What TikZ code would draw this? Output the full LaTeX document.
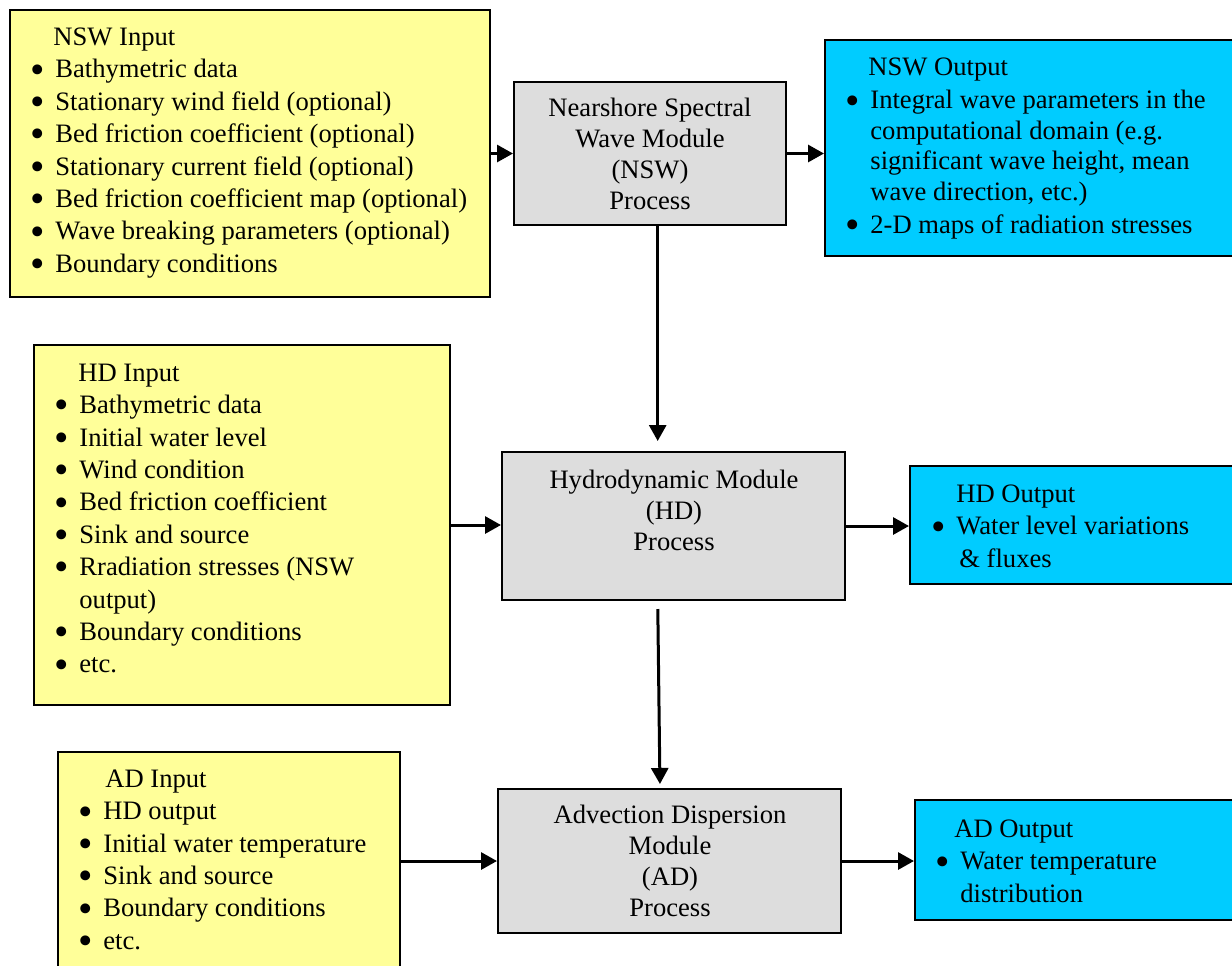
\documentclass[tikz,border=0pt]{standalone}
\usepackage{fontspec}
\setmainfont{Liberation Serif}
\usepackage{graphicx}
\usepackage{tikz}
\usetikzlibrary{arrows.meta,positioning,fit,calc}

\definecolor{inyellow}{RGB}{255,255,153}
\definecolor{procgray}{RGB}{221,221,221}
\definecolor{outblue}{RGB}{0,204,255}

\newcommand{\bul}{\makebox[12.5pt][l]{\raisebox{-0.2em}{\scalebox{1.55}{\textbullet}}}}

\begin{document}
\begin{tikzpicture}[x=0.5pt,y=-0.5pt,
  box/.style={draw=black,line width=1pt,inner sep=0pt},
  inbox/.style={box,fill=inyellow},
  procbox/.style={box,fill=procgray},
  outbox/.style={box,fill=outblue},
  list/.style={align=left,inner sep=0pt,anchor=north west,font=\fontsize{13.3}{16.2}\selectfont},
  proctxt/.style={align=center,inner sep=0pt,font=\fontsize{13.3}{15.5}\selectfont},
  arr/.style={line width=1.5pt,-{Triangle[length=8pt,width=8.5pt]}}]
  \useasboundingbox (0,0) rectangle (1232,965);
  \clip (0,0) rectangle (1232,965);

  % wave module
  \node[inbox,fit={(10,10)(490,297)}] (nswin) {};
  \node[list] (nswinlist) at (30,27.4) {\hspace*{11.5pt}NSW Input\\
    \bul Bathymetric data\\
    \bul Stationary wind field (optional)\\
    \bul Bed friction coefficient (optional)\\
    \bul Stationary current field (optional)\\
    \bul Bed friction coefficient map (optional)\\
    \bul Wave breaking parameters (optional)\\
    \bul Boundary conditions};
  \node[procbox,fit={(514,82)(786,225)}] (nsw) {};
  \node[proctxt] (nswtxt) at (650,154) {Nearshore Spectral\\Wave Module\\(NSW)\\Process};
  \node[outbox,fit={(825,40)(1250,256)}] (nswout) {};
  \node[list,font=\fontsize{13.3}{15.2}\selectfont] (nswoutlist) at (845,57.4) {\hspace*{11.5pt}NSW Output\\[1.5pt]
    \bul Integral wave parameters in the\\
    \hspace*{12.5pt}computational domain (e.g.\\
    \hspace*{12.5pt}significant wave height, mean\\
    \hspace*{12.5pt}wave direction, etc.)\\[1.5pt]
    \bul 2-D maps of radiation stresses};

  % hydrodynamic module
  \node[inbox,fit={(34,345)(450,705)}] (hdin) {};
  \node[list] (hdinlist) at (54,363.4) {\hspace*{12pt}HD Input\\
    \bul Bathymetric data\\
    \bul Initial water level\\
    \bul Wind condition\\
    \bul Bed friction coefficient\\
    \bul Sink and source\\
    \bul Rradiation stresses (NSW\\
    \hspace*{12.5pt}output)\\
    \bul Boundary conditions\\
    \bul etc.};
  \node[procbox,fit={(502,452)(845,600)}] (hd) {};
  \node[proctxt] (hdtxt) at (674,510) {Hydrodynamic Module\\(HD)\\Process};
  \node[outbox,fit={(910,466)(1250,584)}] (hdout) {};
  \node[list] (hdoutlist) at (931,484.4) {\hspace*{12.5pt}HD Output\\
    \bul Water level variations\\
    \hspace*{14pt}\& fluxes};

  % advection dispersion module
  \node[inbox,fit={(58,752)(400,990)}] (adin) {};
  \node[list] (adinlist) at (78,769.4) {\hspace*{13.5pt}AD Input\\
    \bul HD output\\
    \bul Initial water temperature\\
    \bul Sink and source\\
    \bul Boundary conditions\\
    \bul etc.};
  \node[procbox,fit={(498,789)(841,933)}] (ad) {};
  \node[proctxt] (adtxt) at (670,861) {Advection Dispersion\\Module\\(AD)\\Process};
  \node[outbox,fit={(915,800)(1250,920)}] (adout) {};
  \node[list] (adoutlist) at (935,819.4) {\hspace*{9.5pt}AD Output\\
    \bul Water temperature\\
    \hspace*{12.5pt}distribution};

  \draw[arr] (nswin.east) -- (nsw.west);
  \draw[arr] (nsw.east) -- (nsw.east -| nswout.west);
  \draw[arr,shorten >=5pt] ([xshift=3.85pt]nsw.south) -- ([xshift=3.85pt]nsw.south |- hd.north);
  \draw[arr] (hdin.east) -- (hdin.east -| hd.west);
  \draw[arr] (hd.east) -- (hd.east -| hdout.west);
  \draw[arr,shorten <=4pt,shorten >=2pt] ([xshift=-7.9pt]hd.south) -- ([xshift=-4.75pt]ad.north);
  \draw[arr] (adin.east |- ad.west) -- (ad.west);
  \draw[arr] (ad.east) -- (ad.east -| adout.west);
\end{tikzpicture}
\end{document}
